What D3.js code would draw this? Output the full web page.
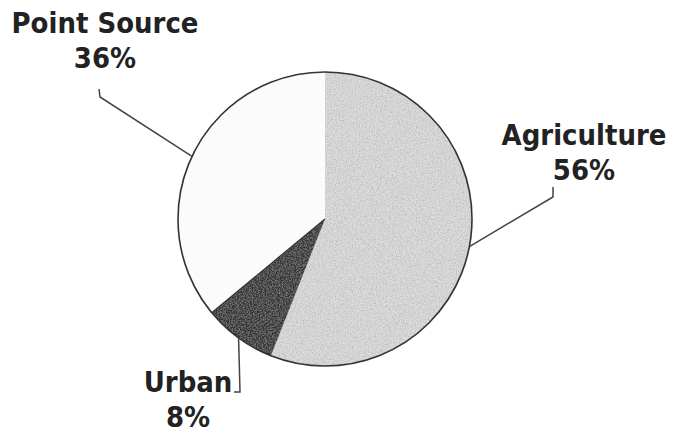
<!DOCTYPE html>
<html>
<head>
<meta charset="utf-8">
<script src="https://cdn.jsdelivr.net/npm/d3@7"></script>
<style>
  body { margin: 0; background: #fff; }
  text { font-family: "DejaVu Sans", Verdana, sans-serif; font-weight: bold; fill: #222; }
</style>
</head>
<body>
<div id="chart"></div>
<script>
// data
var categories = ['Agriculture', 'Urban', 'Point Source'];
var shares = [56, 8, 36];
var colors = ['#dcdcdc', '#363636', '#fbfbfb'];

var width = 684;
var height = 432;
var cx = 325, cy = 219, radius = 147;

// where each label sits and where its leader bends
var labelPos = {
  'Agriculture': { x: 584, y: 145, elbow: [553, 197], top: 187 },
  'Urban': { x: 188, y: 392, elbow: [240, 392], top: null },
  'Point Source': { x: 105, y: 33, elbow: [100, 97], top: 89 }
};

var svg = d3.select('#chart')
  .append('svg')
  .attr('width', width)
  .attr('height', height);

// grainy scan look
var defs = svg.append('defs');
var f = defs.append('filter').attr('id', 'grain').attr('x', 0).attr('y', 0).attr('width', 1).attr('height', 1);
f.append('feTurbulence').attr('type', 'fractalNoise').attr('baseFrequency', 0.7)
  .attr('numOctaves', 2).attr('seed', 4).attr('result', 'noise');
f.append('feColorMatrix').attr('in', 'noise').attr('type', 'matrix')
  .attr('values', '0 0 0 0 0.35  0 0 0 0 0.35  0 0 0 0 0.35  1.3 0 0 0 -0.5')
  .attr('result', 'spots');
f.append('feComposite').attr('in', 'spots').attr('in2', 'SourceGraphic').attr('operator', 'in').attr('result', 'clip');
var m = f.append('feMerge');
m.append('feMergeNode').attr('in', 'SourceGraphic');
m.append('feMergeNode').attr('in', 'clip');

var data = categories.map(function(c, i) { return { name: c, value: shares[i], color: colors[i] }; });

var pie = d3.pie().sort(null).value(function(d) { return d.value; });
var arc = d3.arc().innerRadius(0).outerRadius(radius);

var g = svg.append('g').attr('transform', 'translate(' + cx + ',' + cy + ')');

var arcs = pie(data);

g.selectAll('path.slice')
  .data(arcs)
  .enter()
  .append('path')
  .attr('class', 'slice')
  .attr('d', arc)
  .attr('fill', function(d) { return d.data.color; })
  .attr('filter', function(d) { return d.data.name == 'Point Source' ? null : 'url(#grain)'; });

// dark edge between urban and point source
var urb = arcs[1];
g.append('line')
  .attr('x1', 0).attr('y1', 0)
  .attr('x2', radius * Math.sin(urb.endAngle))
  .attr('y2', -radius * Math.cos(urb.endAngle))
  .style('stroke', '#333').style('stroke-width', 1.3);

g.append('circle')
  .attr('r', radius)
  .attr('fill', 'none')
  .style('stroke', '#333')
  .style('stroke-width', 1.6);

// leaders
arcs.forEach(function(d) {
  var a = (d.startAngle + d.endAngle) / 2;
  var p = labelPos[d.data.name];
  var x0 = cx + radius * Math.sin(a), y0 = cy - radius * Math.cos(a);
  var pts = [[x0, y0], p.elbow];
  if (p.top != null) pts.push([p.elbow[0] - (d.data.name == 'Point Source' ? 1 : 0), p.top]);
  else pts.push([p.elbow[0] - 6, p.elbow[1]]);
  svg.append('path')
    .attr('d', d3.line()(pts))
    .attr('fill', 'none')
    .style('stroke', '#444')
    .style('stroke-width', 1.5);
});

// labels
arcs.forEach(function(d) {
  var p = labelPos[d.data.name];
  var t = svg.append('text')
    .attr('text-anchor', 'middle')
    .attr('transform', 'translate(' + p.x + ',' + p.y + ') scale(0.93,1)')
    .style('font-size', '28px');
  t.append('tspan').attr('x', 0).attr('y', 0).text(d.data.name);
  t.append('tspan').attr('x', 0).attr('y', 35).text(d.data.value + '%');
});
</script>
</body>
</html>
